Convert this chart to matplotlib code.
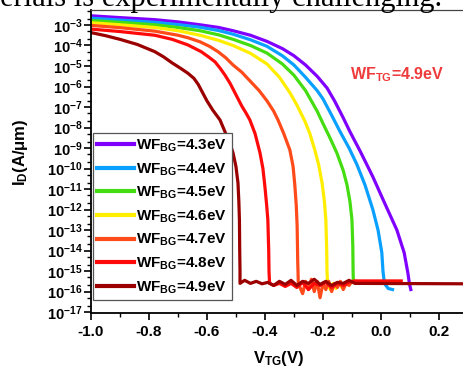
import matplotlib
matplotlib.use("Agg")
import matplotlib.pyplot as plt
from matplotlib.ticker import FuncFormatter, LogLocator, MultipleLocator
import numpy as np

plt.rcParams['font.family'] = ['Liberation Sans', 'DejaVu Sans']
plt.rcParams['font.weight'] = 'bold'
plt.rcParams['mathtext.fontset'] = 'custom'
plt.rcParams['mathtext.rm'] = 'Liberation Sans:bold'
plt.rcParams['mathtext.it'] = 'Liberation Sans:bold'
plt.rcParams['mathtext.bf'] = 'Liberation Sans:bold'

# Transfer curves, V_TG (V) and log10 of I_D (A/um)
wf_bg = ['4.3', '4.4', '4.5', '4.6', '4.7', '4.8', '4.9']
colors = ['#8000ff', '#0aa0ff', '#44dd11', '#ffee00', '#ff4a1a', '#ff0a0a', '#9b0000']

vtg_43 = [-1.0, -0.9, -0.78, -0.7, -0.624, -0.56, -0.51, -0.45, -0.393, -0.34, -0.3, -0.26, -0.22,
          -0.186, -0.16, -0.131, -0.107, -0.07, -0.028, 0.01, 0.055, 0.08, 0.093, 0.098, 0.103]
log_id_43 = [-2.55, -2.64, -2.74, -2.85, -2.99, -3.12, -3.28, -3.5, -3.8, -4.15, -4.5, -4.95, -5.5,
             -6.07, -6.7, -7.5, -8.2, -9.2, -10.4, -11.6, -13.0, -14.1, -15.1, -15.6, -15.9]

vtg_44 = [-1.0, -0.9, -0.78, -0.7, -0.624, -0.56, -0.51, -0.45, -0.393, -0.34, -0.3, -0.26, -0.22,
          -0.2, -0.17, -0.141, -0.11, -0.083, -0.055, -0.028, -0.01, 0.003, 0.007, 0.012, 0.025, 0.04]
log_id_44 = [-2.67, -2.76, -2.87, -2.98, -3.11, -3.27, -3.45, -3.72, -4.04, -4.5, -4.95, -5.55, -6.2,
             -6.6, -7.4, -8.2, -9.0, -9.8, -10.8, -12.0, -13.0, -14.1, -15.0, -15.6, -15.85, -15.9]

vtg_45 = [-1.0, -0.9, -0.78, -0.7, -0.624, -0.56, -0.51, -0.45, -0.393, -0.34, -0.3, -0.26, -0.22,
          -0.2, -0.176, -0.152, -0.13, -0.117, -0.107, -0.1, -0.097, -0.096, -0.095, 0.0]
log_id_45 = [-2.78, -2.87, -2.99, -3.12, -3.28, -3.48, -3.7, -4.0, -4.37, -4.9, -5.45, -6.2, -7.2,
             -7.8, -8.5, -9.24, -10.1, -10.8, -11.6, -12.5, -13.8, -15.0, -15.55, -15.55]

vtg_46 = [-1.0, -0.9, -0.78, -0.7, -0.624, -0.56, -0.51, -0.45, -0.393, -0.35, -0.314, -0.29, -0.262,
          -0.245, -0.228, -0.215, -0.203, -0.195, -0.19, -0.187, -0.186,
          -0.184, -0.175, -0.165, -0.155, -0.145, -0.135, -0.125, -0.115]
log_id_46 = [-2.89, -2.99, -3.12, -3.28, -3.5, -3.75, -4.0, -4.38, -4.9, -5.55, -6.3, -6.9, -7.7,
             -8.3, -9.1, -9.8, -10.7, -11.6, -12.5, -14.0, -15.0,
             -15.6, -15.9, -15.6, -15.85, -15.55, -15.8, -15.6, -15.6]

vtg_47 = [-1.0, -0.9, -0.78, -0.7, -0.666, -0.624, -0.59, -0.562, -0.535, -0.51, -0.48, -0.45, -0.42,
          -0.393, -0.37, -0.355, -0.335, -0.314, -0.303, -0.297, -0.292, -0.289, -0.287, -0.286,
          -0.285, -0.27, -0.26, -0.25, -0.24, -0.23, -0.22, -0.21, -0.2, -0.19, -0.18, -0.17, -0.16,
          -0.15, -0.14, -0.13, -0.12, -0.11, -0.1, -0.09]
log_id_47 = [-3.02, -3.13, -3.3, -3.5, -3.62, -3.82, -4.05, -4.3, -4.6, -4.95, -5.3, -5.75, -6.2,
             -6.7, -7.2, -7.63, -8.3, -9.1, -9.9, -10.8, -11.8, -12.8, -14.5, -15.0,
             -15.6, -16.1, -15.5, -15.9, -15.4, -16.0, -15.5, -16.3, -15.6, -15.9, -15.5, -16.0, -15.6,
             -15.8, -15.5, -15.9, -15.6, -15.7, -15.5, -15.5]

vtg_48 = [-1.0, -0.9, -0.78, -0.72, -0.666, -0.62, -0.595, -0.572, -0.555, -0.538, -0.52, -0.5, -0.48,
          -0.465, -0.452, -0.434, -0.417, -0.407, -0.4, -0.394, -0.39, -0.387, -0.386,
          -0.384, -0.37, -0.35, -0.33, -0.31, -0.29, -0.27, -0.25, -0.23, -0.21, -0.19, -0.17, -0.15,
          -0.13, -0.11, -0.09, 0.07]
log_id_48 = [-3.2, -3.32, -3.5, -3.7, -3.97, -4.3, -4.55, -4.8, -5.1, -5.44, -5.85, -6.4, -6.95,
             -7.3, -7.63, -8.3, -9.24, -10.0, -10.9, -11.8, -12.5, -14.0, -15.0,
             -15.6, -15.7, -15.6, -15.75, -15.6, -15.8, -15.55, -15.9, -15.6, -15.7, -15.55, -15.8, -15.6,
             -15.7, -15.55, -15.48, -15.48]

vtg_49 = [-1.0, -0.95, -0.9, -0.84, -0.78, -0.75, -0.72, -0.69, -0.666, -0.645, -0.63, -0.615, -0.6,
          -0.58, -0.555, -0.538, -0.52, -0.51, -0.5, -0.493, -0.49, -0.488, -0.487, -0.486,
          -0.486, -0.47, -0.45, -0.43, -0.41, -0.39, -0.37, -0.35, -0.33, -0.31, -0.29, -0.27, -0.25,
          -0.23, -0.21, -0.19, -0.17, -0.15, -0.13, -0.11, -0.09, 0.29]
log_id_49 = [-3.37, -3.52, -3.7, -3.95, -4.3, -4.55, -4.85, -5.12, -5.35, -5.6, -5.9, -6.3, -6.7,
             -7.15, -7.63, -8.2, -8.8, -9.24, -9.9, -10.7, -11.6, -12.5, -14.0, -15.0,
             -15.6, -15.45, -15.6, -15.5, -15.62, -15.55, -15.7, -15.5, -15.65, -15.45, -15.7, -15.5, -15.6,
             -15.4, -15.65, -15.5, -15.7, -15.55, -15.6, -15.45, -15.6, -15.62]

vtg_all = [vtg_43, vtg_44, vtg_45, vtg_46, vtg_47, vtg_48, vtg_49]
log_id_all = [log_id_43, log_id_44, log_id_45, log_id_46, log_id_47, log_id_48, log_id_49]

fig = plt.figure(figsize=(4.64, 3.71), dpi=100)
fig.patch.set_facecolor('white')
ax = fig.add_axes([0.196, 0.156, 0.8125, 0.817])

for wf, col, vx, ly in zip(wf_bg, colors, vtg_all, log_id_all):
    ax.plot(vx, 10.0 ** np.array(ly), color=col, lw=2.3,
            label=r'WF$_{\mathbf{BG}}$=' + wf + 'eV', solid_joinstyle='round')

ax.set_yscale('log')
ax.set_xlim(-1.0, 0.3)
ax.set_ylim(10 ** -17.05, 10 ** -2.27)

ax.xaxis.set_major_locator(MultipleLocator(0.2))
ax.xaxis.set_minor_locator(MultipleLocator(0.1))
ax.xaxis.set_major_formatter(FuncFormatter(lambda v, p: f'{v:.1f}'.replace('-0.0', '0.0')))
ax.yaxis.set_major_locator(LogLocator(base=10, numticks=30))
ax.yaxis.set_minor_locator(LogLocator(base=10, subs=[2, 5], numticks=30))
ax.yaxis.set_major_formatter(FuncFormatter(lambda v, p: r'$\mathbf{10^{%d}}$' % round(np.log10(v))))

ax.tick_params(which='major', direction='out', length=5, width=1.2, labelsize=11)
ax.tick_params(which='minor', direction='out', length=3, width=1.0)
ax.tick_params(axis='y', which='major', labelsize=10.5, pad=1)
ax.tick_params(axis='y', which='minor', labelleft=False)
for lab in ax.get_xticklabels():
    lab.set_fontweight('bold')

for side in ['left', 'bottom']:
    ax.spines[side].set_linewidth(1.3)
ax.spines['top'].set_linewidth(0.9)
ax.spines['top'].set_color('#444444')
ax.spines['right'].set_visible(False)

ax.set_ylabel(r'I$_{\mathbf{D}}$(A/μm)', fontsize=12, fontweight='bold')
ax.yaxis.set_label_coords(-0.162, 0.53)
ax.set_xlabel(r'V$_{\mathbf{TG}}$(V)', fontsize=12, fontweight='bold')
ax.xaxis.set_label_coords(0.499, -0.118)

ax.text(-0.107, 10 ** -5.44, r'WF$_{\mathbf{TG}}$=4.9eV', color='#ee3b3b',
        fontsize=11.5, fontweight='bold', va='center', ha='left')

leg = ax.legend(loc='upper left', bbox_to_anchor=(0.005, 0.594),
                handlelength=2.4, handletextpad=0.15, labelspacing=0.47,
                borderpad=0.3, borderaxespad=0.0, fancybox=False, framealpha=1,
                edgecolor='#555555', prop={'weight': 'bold', 'size': 11})
leg.get_frame().set_linewidth(0.9)
for line in leg.get_lines():
    line.set_linewidth(3.0)

fig.text(0.0, 0.985, 'erials is experimentally challenging.', family='Liberation Serif',
         fontsize=22, fontweight='normal', va='baseline', ha='left')

fig.savefig('out.png', dpi=100)
